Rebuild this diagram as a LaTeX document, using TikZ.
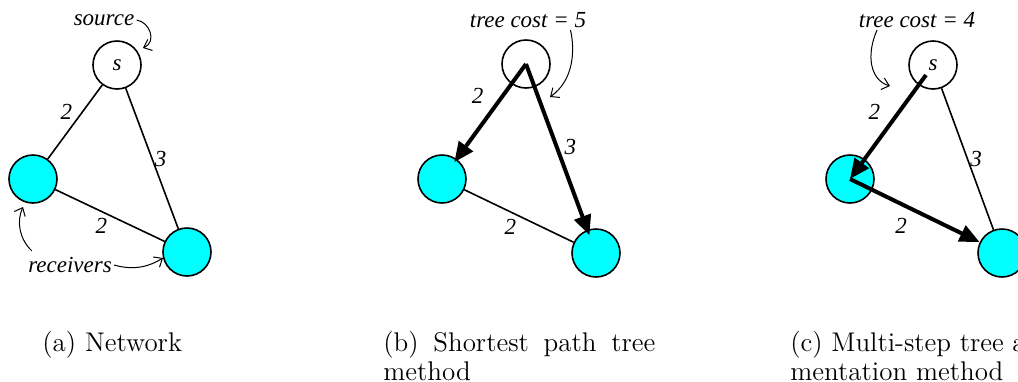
\documentclass[tikz,border=0pt]{standalone}
\usepackage{fontspec}
\newfontfamily\timesfont{Liberation Serif}
\usetikzlibrary{arrows.meta}
\definecolor{rcvcyan}{RGB}{0,255,255}
\tikzset{
  host/.style={circle,draw,line width=0.8pt,minimum size=24pt,inner sep=0pt,
    font=\timesfont\itshape\fontsize{11.5}{13}\selectfont},
  rcvr/.style={host,fill=rcvcyan},
  link/.style={line width=0.8pt},
  tree/.style={line width=2pt,-{Triangle[length=10pt,width=8.5pt]}},
  lbl/.style={font=\timesfont\itshape\fontsize{11.5}{13}\selectfont,inner sep=1pt},
  note/.style={line width=0.5pt,-{Straight Barb[length=3.5pt,width=6pt]}},
  capt/.style={font=\fontsize{13.5}{14.5}\selectfont,anchor=north west,inner sep=0pt,
    text width=136pt,align=justify}
}
\begin{document}
\begin{tikzpicture}[x=0.5pt,y=-0.5pt]
	\useasboundingbox (0,0) rectangle (1018,381);
	\clip (0,0) rectangle (1018,381);
	% (a) network
	\node[host] (sa) at (117,65) {s};
	\node[rcvr] (la) at (33,179) {};
	\node[rcvr] (ra) at (187,252) {};
	\draw[link] (sa) -- node[lbl,above left] {2} (la);
	\draw[link] (sa) -- node[lbl,right] {3} (ra);
	\draw[link] (la) -- node[lbl,below left] {2} (ra);
	\node[lbl] (src) at (104,20) {source};
	\node[lbl] (rcv) at (70,265) {receivers};
	\coordinate (srctip) at (143,48);
	\coordinate (rcvtipl) at (23,207);
	\coordinate (rcvtipr) at (163,258);
	\draw[note] (src.east) .. controls (150,22) and (157,42) .. (srctip);
	\draw[note] ([xshift=3pt,yshift=2pt]rcv.north west) .. controls (20,240) and (16,222) .. (rcvtipl);
	\draw[note] (rcv.east) .. controls (135,271) and (150,266) .. (rcvtipr);
	% (b) shortest path tree
	\node[host] (sb) at (526,64) {};
	\node[rcvr] (lb) at (442,179) {};
	\node[rcvr] (rb) at (596,253) {};
	\draw[tree,shorten >=-2pt] (sb.center) -- node[lbl,above left=2pt] {2} (lb);
	\draw[tree,shorten >=-3pt] (sb.center) -- node[lbl,right=2pt] {3} (rb);
	\draw[link] (lb) -- node[lbl,below left] {2} (rb);
	\node[lbl] (costb) at (528,20) {tree cost = 5};
	\coordinate (costbtip) at (550,97);
	\draw[note] ([xshift=-9pt]costb.south east) .. controls (575,50) and (574,80) .. (costbtip);
	% (c) multi-step tree augmentation
	\node[host] (sc) at (933,65) {s};
	\node[rcvr] (lc) at (850,179) {};
	\node[rcvr] (rc) at (1002,253) {};
	\coordinate (sc0) at (926,75);
	\draw[link] (sc) -- node[lbl,right] {3} (rc);
	\draw[tree] (sc0) -- node[lbl,above left=2pt] {2} (lc.center);
	\draw[tree] (lc.center) -- node[lbl,below left=2pt] {2} (rc);
	\node[lbl] (costc) at (917,20) {tree cost = 4};
	\coordinate (costctip) at (890,86);
	\draw[note] ([xshift=-20pt]costc.south) .. controls (866,55) and (870,80) .. (costctip);
	% captions
	\node[capt] (capa) at (42,331) {(a) Network};
	\node[capt] (capb) at (383,331) {(b) Shortest path tree\linebreak method};
	\node[capt] (capc) at (790,331) {(c) Multi-step tree aug-\linebreak mentation method};
\end{tikzpicture}
\end{document}
